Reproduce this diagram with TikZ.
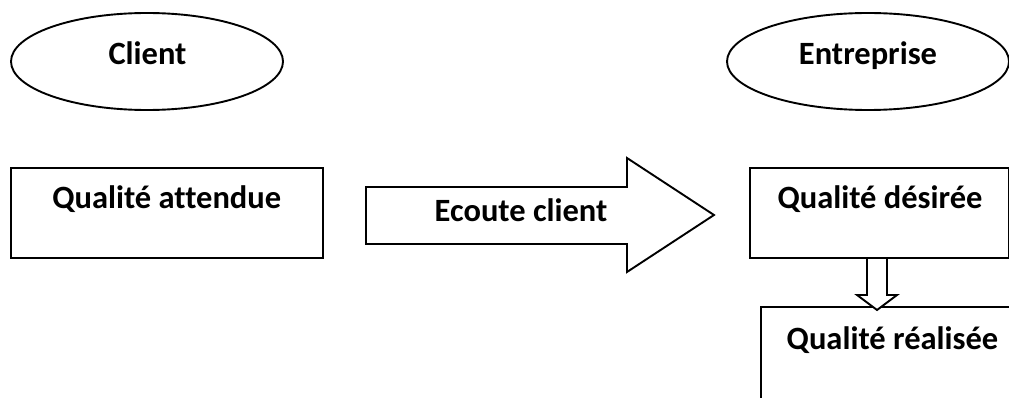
\documentclass[tikz,border=0pt]{standalone}
\usepackage{fontspec}
\setmainfont[Ligatures={NoCommon,NoContextual}]{Carlito}
\usetikzlibrary{shapes.geometric}
\tikzset{
  outline/.style={draw=black, line width=1.9pt, fill=white},
  actor/.style={outline, ellipse, minimum width=272pt, minimum height=97pt, inner sep=0pt},
  qbox/.style={outline, rectangle, inner sep=0pt},
  caption/.style={anchor=base, inner sep=0pt, font=\fontsize{32.5}{38}\selectfont\bfseries},
}
\begin{document}
\begin{tikzpicture}[x=1pt, y=-1pt]
  \useasboundingbox (0,0) rectangle (1009,398);
  \clip (0,0) rectangle (1009,398);

  % actors
  \node[actor] (client) at (147,61.5) {};
  \node[actor, minimum width=282pt] (entreprise) at (868,61.5) {};
  \node[caption] (clientT) at (147.5,65) {Client};
  \node[caption] (entrepriseT) at (868,65) {Entreprise};

  % quality boxes
  \node[qbox, minimum width=312pt, minimum height=90pt] (attendue) at (167,213) {};
  \node[qbox, minimum width=259pt, minimum height=90pt] (desiree) at (879.5,213) {};
  \node[qbox, minimum width=260pt, minimum height=120pt] (realisee) at (891,367) {};

  % listening arrow between client and company
  \draw[outline] (366,187) -- (627,187) -- (627,158) -- (714,215)
    -- (627,272) -- (627,244) -- (366,244) -- cycle;

  % hollow arrow from desired to achieved quality
  \draw[outline] (867,258) -- (887,258) -- (887,295) -- (897,295)
    -- (877,310) -- (857,295) -- (867,295) -- cycle;

  \node[caption] (attendueT) at (166.7,208) {Qualité attendue};
  \node[caption] (ecouteT) at (521,222) {Ecoute client};
  \node[caption] (desireeT) at (880,209) {Qualité désirée};
  \node[caption] (realiseeT) at (892.5,349) {Qualité réalisée};
\end{tikzpicture}
\end{document}
